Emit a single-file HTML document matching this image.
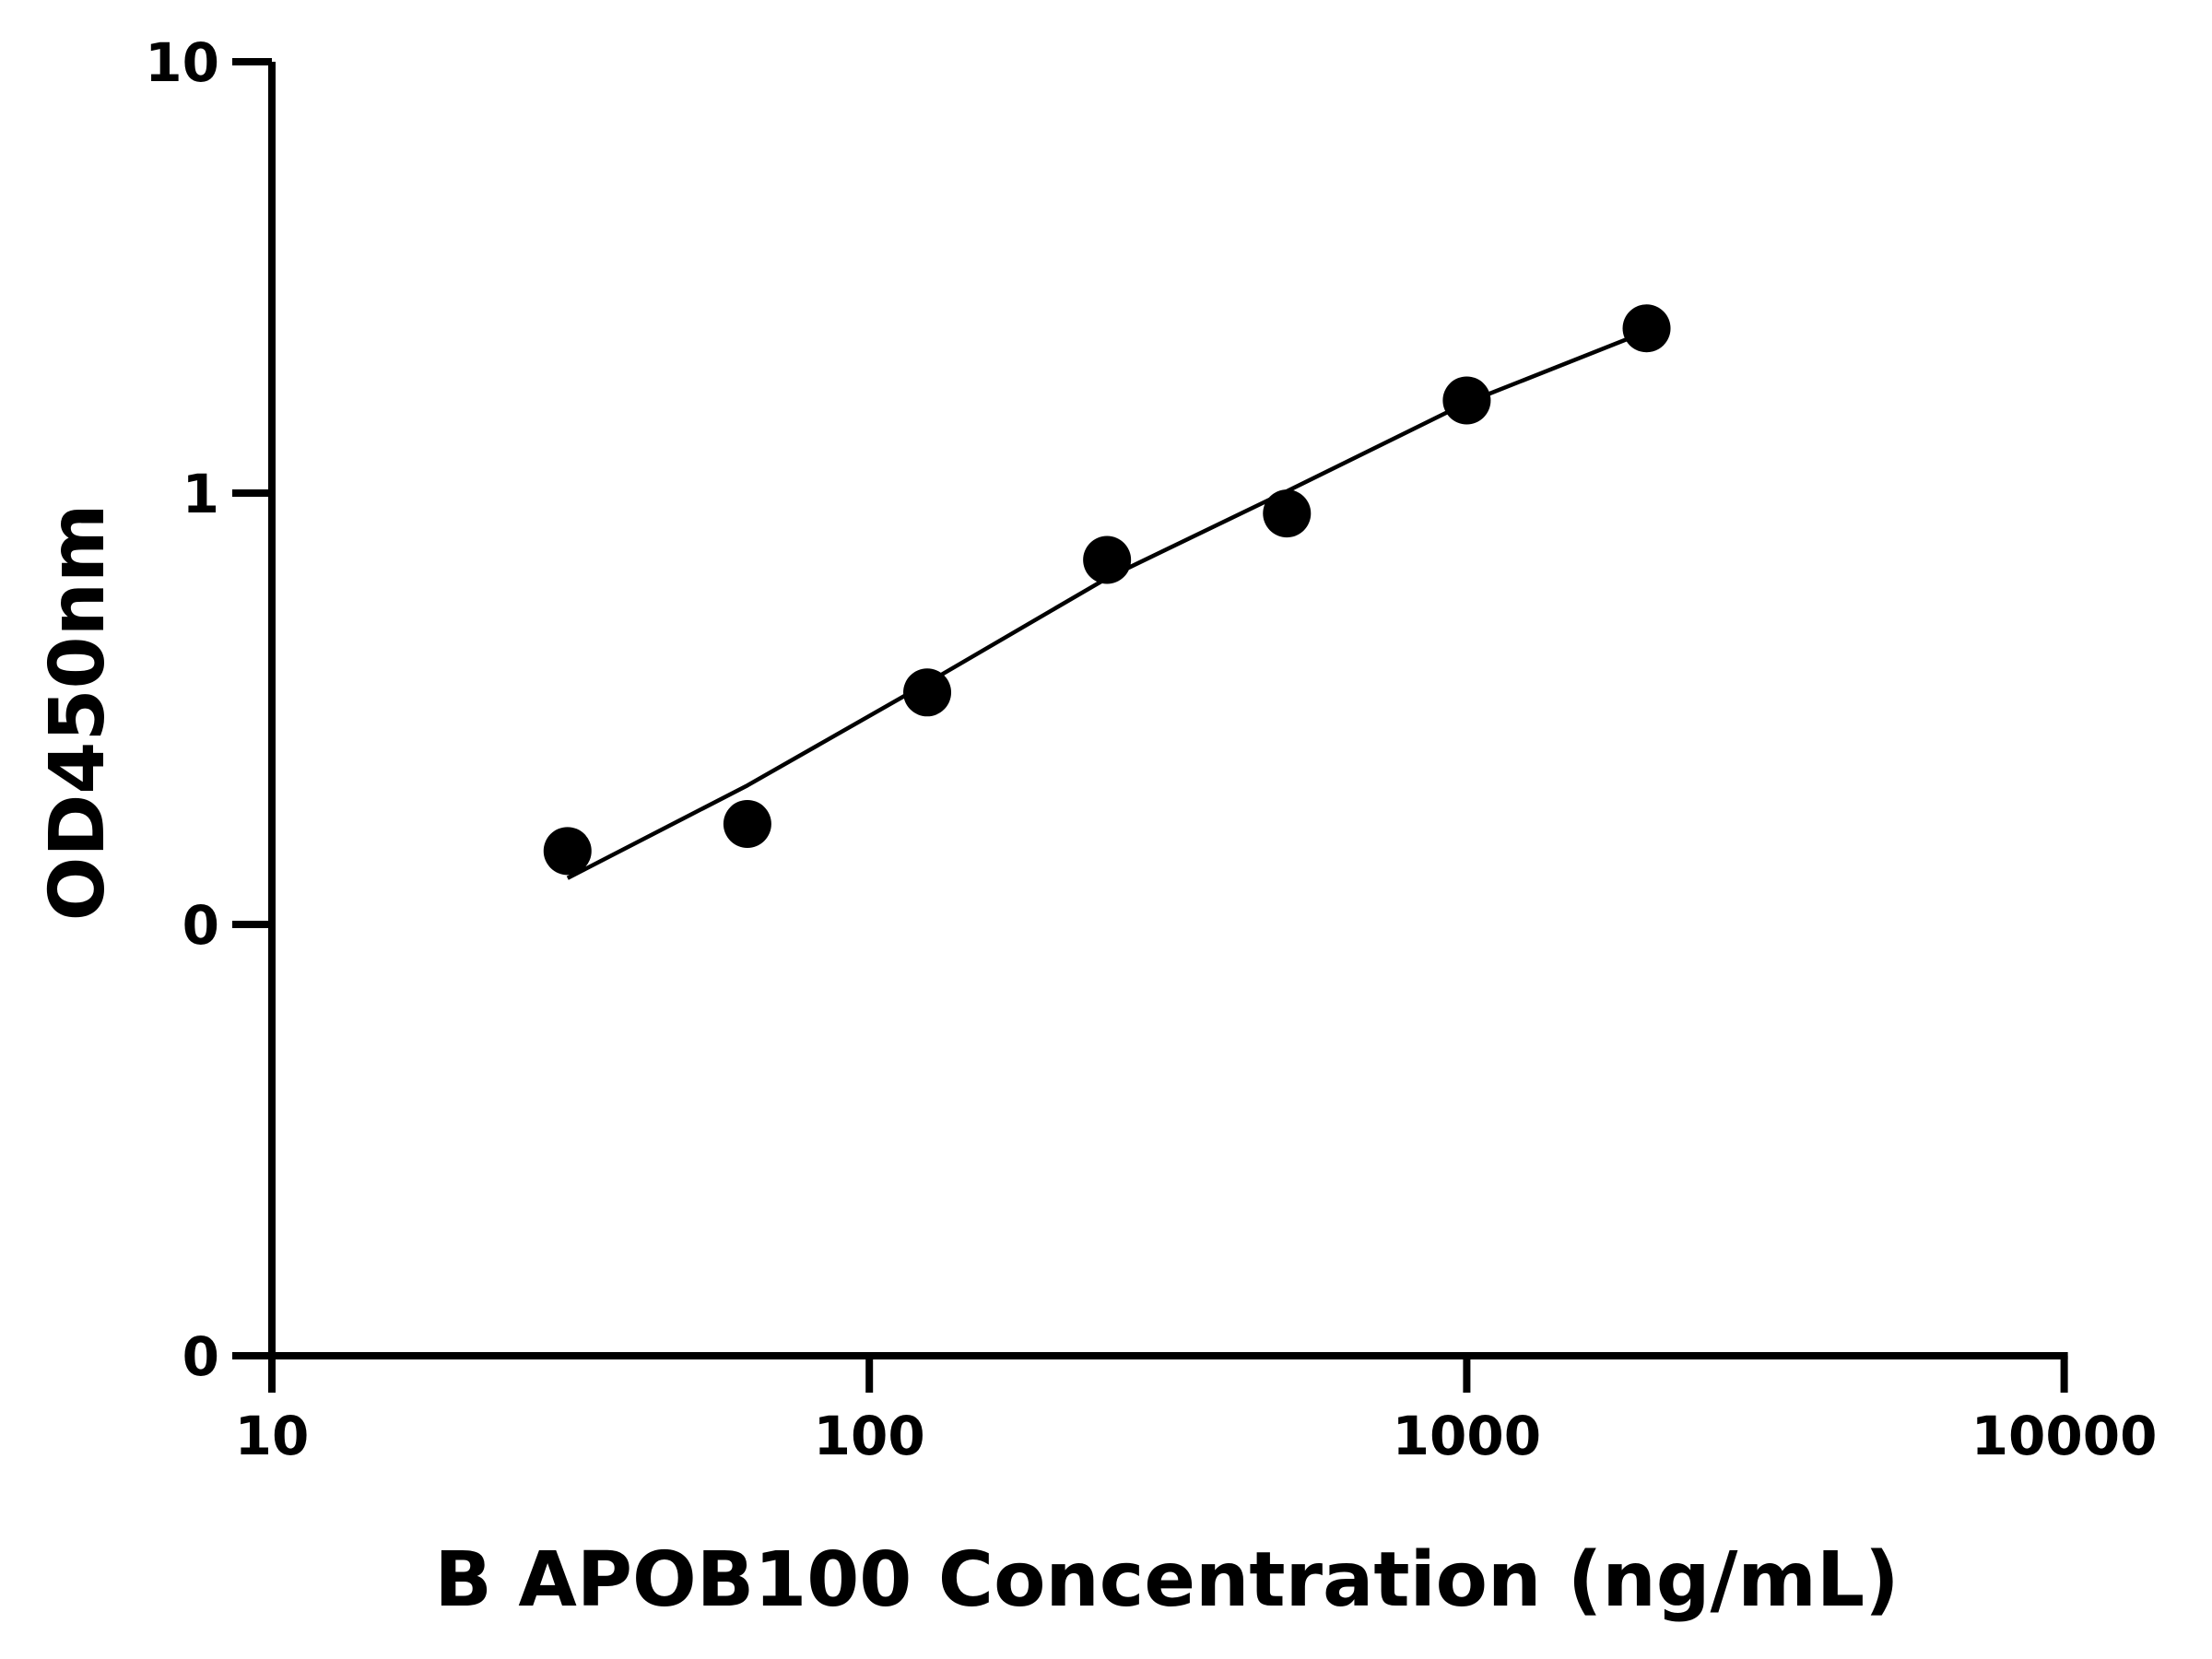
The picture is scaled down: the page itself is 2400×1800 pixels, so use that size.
<!DOCTYPE html>
<html><head><meta charset="utf-8"><style>html,body{margin:0;padding:0;background:#fff;}svg{display:block;}</style></head>
<body>
<svg id="chart" width="2400" height="1800" viewBox="0 0 2400 1800" xmlns="http://www.w3.org/2000/svg" font-family="'DejaVu Sans','Liberation Sans',sans-serif" font-weight="bold">
<g id="axes"></g>
<g id="curve-layer"></g>
<g id="points"></g>
<text x="1266" y="1742" font-size="82" text-anchor="middle">B APOB100 Concentration (ng/mL)</text>
<text transform="translate(112,773) rotate(-90)" font-size="82" text-anchor="middle">OD450nm</text>
</svg>
<script>
const concentrations = [31.25, 62.5, 125, 250, 500, 1000, 2000];
const odValues = [0.148, 0.171, 0.345, 0.70, 0.897, 1.64, 2.41];
const fitX = [31.25, 62.5, 125, 250, 500, 1000, 2000];
const fitY = [0.128, 0.21, 0.363, 0.635, 1.01, 1.62, 2.37];
const xTicks = [10, 100, 1000, 10000];
const xTickLabels = ["10", "100", "1000", "10000"];
const yTicks = [0.01, 0.1, 1, 10];
const yTickLabels = ["0", "0", "1", "10"];

const NS = "http://www.w3.org/2000/svg";
const X0 = 295, XDEC = 648.2, Y0 = 1471, YDEC = 468;
function xs(v){ return X0 + (Math.log10(v) - 1) * XDEC; }
function ys(v){ return Y0 - (Math.log10(v) + 2) * YDEC; }
function mk(tag, attrs, parent){ const e = document.createElementNS(NS, tag); for (const k in attrs) e.setAttribute(k, attrs[k]); parent.appendChild(e); return e; }

const axes = document.getElementById('axes');
const yAxis = mk('line', {x1: X0, y1: ys(10), x2: X0, y2: Y0, stroke: '#000', 'stroke-width': 8}, axes);


const xAxis = mk('line', {x1: X0 - 43, y1: Y0, x2: xs(10000) + 4, y2: Y0, stroke: '#000', 'stroke-width': 8}, axes);



xTicks.forEach((t, i) => {
  const tk = mk('line', {x1: xs(t), y1: Y0, x2: xs(t), y2: Y0 + 40, stroke: '#000', 'stroke-width': 8}, axes);
  
  
  const lb = mk('text', {x: xs(t), y: Y0 + 107, 'font-size': 58, 'text-anchor': 'middle'}, axes);
  lb.textContent = xTickLabels[i];
  
  
});
yTicks.forEach((t, i) => {
  const tk = mk('line', {x1: X0 - 43, y1: ys(t), x2: X0, y2: ys(t), stroke: '#000', 'stroke-width': 8}, axes);
  
  
  const lb = mk('text', {x: 238, y: ys(t) + 21, 'font-size': 58, 'text-anchor': 'end'}, axes);
  lb.textContent = yTickLabels[i];
  
  
});

const cl = document.getElementById('curve-layer');
let d = '';
fitX.forEach((x, i) => { d += (i ? 'L' : 'M') + xs(x).toFixed(1) + ',' + ys(fitY[i]).toFixed(1); });
const path = mk('path', {d: d, fill: 'none', stroke: '#000', 'stroke-width': 4.5, 'stroke-linejoin': 'round'}, cl);



const pts = document.getElementById('points');
concentrations.forEach((c, i) => {
  const p = mk('circle', {cx: xs(c), cy: ys(odValues[i]), r: 26, fill: '#000'}, pts);
  
  
});
</script>
</body></html>
